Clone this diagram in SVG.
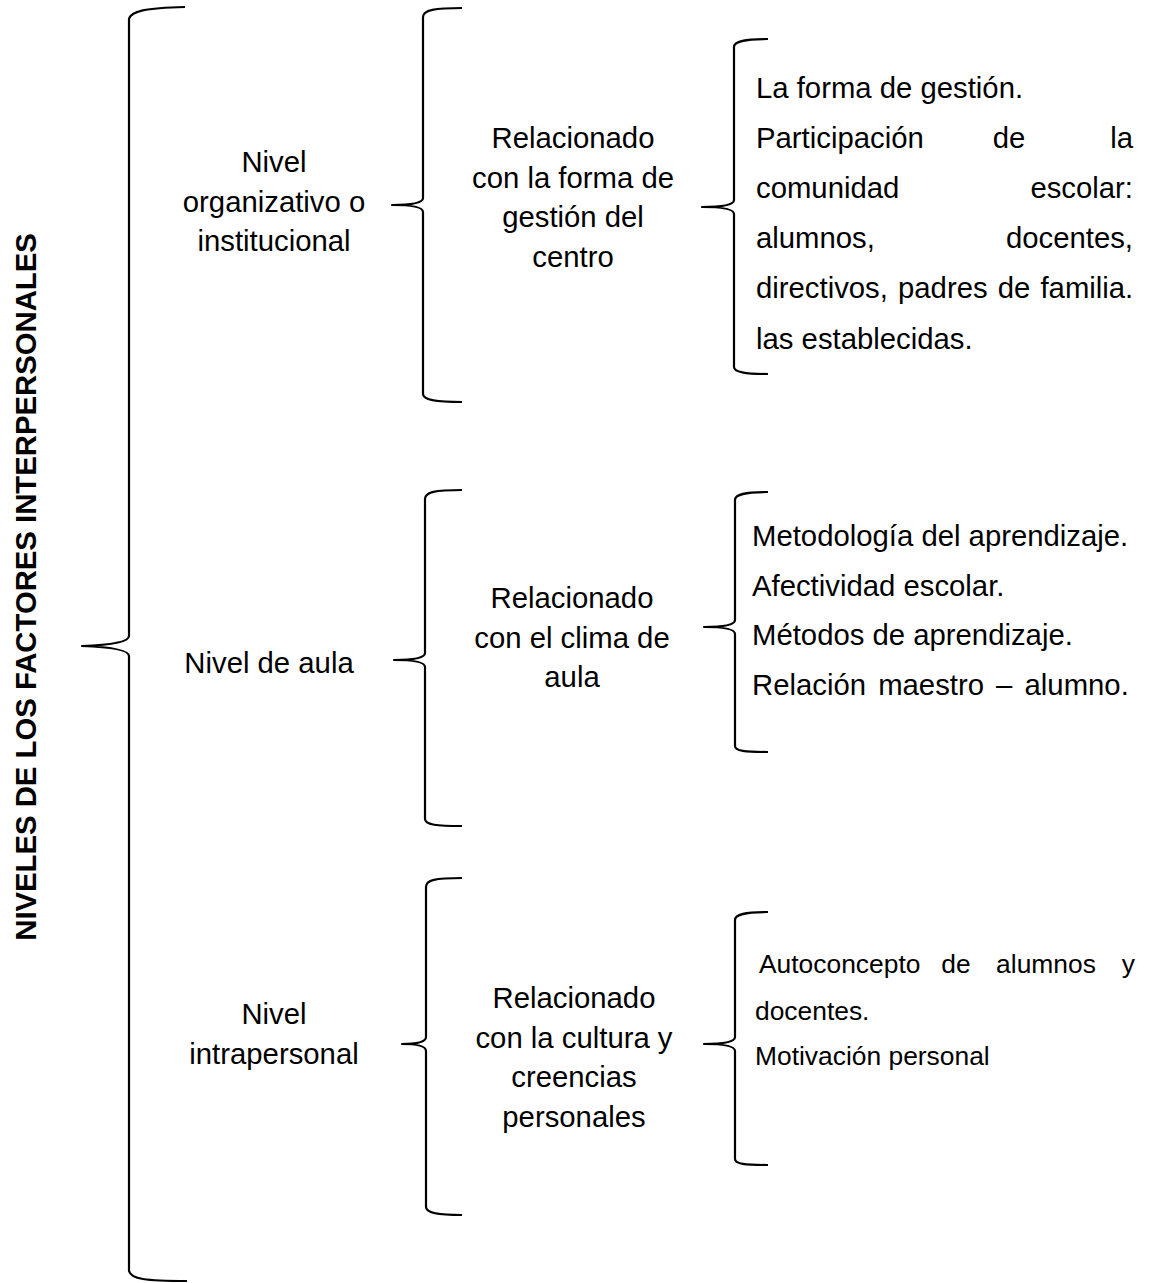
<svg xmlns="http://www.w3.org/2000/svg" width="1152" height="1283" viewBox="0 0 1152 1283">
<style>
.br{fill:none;stroke:#000;stroke-width:2.2;stroke-linejoin:round;stroke-linecap:butt}
text{font-family:"Liberation Sans",Arial,sans-serif;fill:#000}
.t{font-size:29.3px}
.c{text-anchor:middle}
.e{text-anchor:end}
.s{font-size:26.4px}
.title{font-size:29.3px;font-weight:bold;text-anchor:middle}
</style>
<rect width="1152" height="1283" fill="#fff"/>
<g id="connectors">
<path class="br" d="M185,7 C145,8 131,11 129,19 L129,636 C129,642 110,645 82,646 C110,647 129,650 129,656 L129,1271 C131,1279 145,1281 187,1281"/>
<path class="br" d="M462,8 C435,8 423,10 423,17 L423,198 C423,203 410,205 392,205 C410,205 423,207 423,212 L423,394 C423,400 435,402 462,402"/>
<path class="br" d="M462,490 C435,490 425,492 425,499 L425,653 C425,658 412,660 394,660 C412,660 425,662 425,667 L425,819 C425,825 437,826 462,826"/>
<path class="br" d="M462,878 C435,878 426,880 426,887 L426,1037 C426,1042 418,1044 402,1044 C418,1044 426,1046 426,1051 L426,1207 C426,1213 437,1215 462,1215"/>
<path class="br" d="M768,39 C745,39 734,41 734,47 L734,200 C734,205 722,207 702,207 C722,207 734,209 734,214 L734,367 C734,372 745,374 768,374"/>
<path class="br" d="M768,492 C745,492 735,494 735,500 L735,620 C735,625 724,627 704,627 C724,627 735,629 735,634 L735,746 C735,751 745,752 768,752"/>
<path class="br" d="M768,912 C745,912 735,914 735,920 L735,1037 C735,1042 724,1044 704,1044 C724,1044 735,1046 735,1051 L735,1159 C735,1164 745,1165 768,1165"/>
</g>
<g id="title">
<text class="title" transform="translate(36,587) rotate(-90)">NIVELES DE LOS FACTORES INTERPERSONALES</text>
</g>
<g id="nivel-organizativo">
<text class="t c" x="274" y="172">Nivel</text>
<text class="t c" x="274" y="211.5">organizativo o</text>
<text class="t c" x="274" y="251">institucional</text>
</g>
<g id="rel-gestion">
<text class="t c" x="573" y="148">Relacionado</text>
<text class="t c" x="573" y="187.5">con la forma de</text>
<text class="t c" x="573" y="227">gestión del</text>
<text class="t c" x="573" y="266.5">centro</text>
</g>
<g id="lista-gestion">
<text class="t" x="756" y="98">La forma de gestión.</text>
<text class="t" x="756" y="148">Participación</text>
<text class="t c" x="1009" y="148">de</text>
<text class="t e" x="1133" y="148">la</text>
<text class="t" x="756" y="198">comunidad</text>
<text class="t e" x="1133" y="198">escolar:</text>
<text class="t" x="756" y="248">alumnos,</text>
<text class="t e" x="1133" y="248">docentes,</text>
<text class="t" x="756" y="298" style="word-spacing:2px">directivos, padres de familia.</text>
<text class="t" x="756" y="349">las establecidas.</text>
</g>
<g id="nivel-aula">
<text class="t c" x="269" y="673">Nivel de aula</text>
</g>
<g id="rel-clima">
<text class="t c" x="572" y="608">Relacionado</text>
<text class="t c" x="572" y="647.5">con el clima de</text>
<text class="t c" x="572" y="687">aula</text>
</g>
<g id="lista-aula">
<text class="t" x="752" y="546">Metodología del aprendizaje.</text>
<text class="t" x="752" y="596">Afectividad escolar.</text>
<text class="t" x="752" y="645">Métodos de aprendizaje.</text>
<text class="t" x="752" y="695" style="word-spacing:4px">Relación maestro – alumno.</text>
</g>
<g id="nivel-intrapersonal">
<text class="t c" x="274" y="1024">Nivel</text>
<text class="t c" x="274" y="1063.5">intrapersonal</text>
</g>
<g id="rel-cultura">
<text class="t c" x="574" y="1008">Relacionado</text>
<text class="t c" x="574" y="1047.5">con la cultura y</text>
<text class="t c" x="574" y="1087">creencias</text>
<text class="t c" x="574" y="1126.5">personales</text>
</g>
<g id="lista-intrapersonal">
<text class="s" x="759" y="973">Autoconcepto</text>
<text class="s c" x="956" y="973">de</text>
<text class="s c" x="1046" y="973">alumnos</text>
<text class="s e" x="1135" y="973">y</text>
<text class="s" x="755" y="1020">docentes.</text>
<text class="s" x="755" y="1065">Motivación personal</text>
</g>
</svg>
